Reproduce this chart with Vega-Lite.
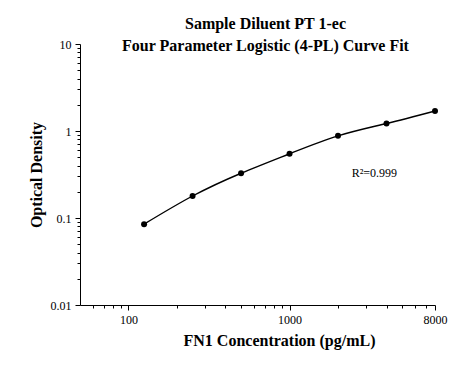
{
  "$schema": "https://vega.github.io/schema/vega-lite/v6.json",
  "width": 355,
  "height": 261,
  "autosize": "none",
  "padding": {"left": 80, "top": 44, "right": 27, "bottom": 61},
  "background": "white",
  "config": {
    "view": {"stroke": null},
    "font": "Liberation Serif",
    "axis": {
      "grid": false,
      "domainColor": "black",
      "tickColor": "black",
      "labelColor": "black",
      "titleColor": "black",
      "labelFont": "Liberation Serif",
      "titleFont": "Liberation Serif",
      "labelFontSize": 12,
      "titleFontSize": 16,
      "titleFontWeight": "bold",
      "labelOverlap": false,
      "labelBound": false,
      "labelFlush": false
    }
  },
  "title": {
    "text": ["Sample Diluent PT 1-ec", "Four Parameter Logistic (4-PL) Curve Fit"],
    "font": "Liberation Serif",
    "fontSize": 16,
    "fontWeight": "bold",
    "color": "black",
    "anchor": "middle",
    "lineHeight": 22,
    "offset": -16,
    "dx": 8
  },
  "datasets": {
    "points": [
      {"conc": 125, "od": 0.085},
      {"conc": 250, "od": 0.179},
      {"conc": 500, "od": 0.327},
      {"conc": 1000, "od": 0.548},
      {"conc": 2000, "od": 0.88},
      {"conc": 4000, "od": 1.22},
      {"conc": 8000, "od": 1.7}
    ],
    "note": [
      {"conc": 2430, "od": 0.33, "label": "R²=0.999"}
    ]
  },
  "layer": [
    {
      "data": {"name": "points"},
      "mark": {"type": "line", "interpolate": "natural", "color": "black", "strokeWidth": 1.4},
      "encoding": {
        "x": {
          "field": "conc",
          "type": "quantitative",
          "scale": {"type": "log", "domain": [50, 8000], "nice": false, "zero": false},
          "axis": {
            "title": "FN1 Concentration (pg/mL)",
            "values": [60, 70, 80, 90, 100, 200, 300, 400, 500, 600, 700, 800, 900, 1000, 2000, 3000, 4000, 5000, 6000, 7000, 8000],
            "labelExpr": "indexof([100, 1000, 8000], datum.value) >= 0 ? format(datum.value, 'd') : ''",
            "tickSize": {"condition": {"test": "indexof([100, 1000, 8000], datum.value) >= 0", "value": 5}, "value": 3},
            "labelPadding": 4,
            "titlePadding": 7,
            "titleX": 199
          }
        },
        "y": {
          "field": "od",
          "type": "quantitative",
          "scale": {"type": "log", "domain": [0.01, 10], "nice": false, "zero": false},
          "axis": {
            "title": "Optical Density",
            "values": [0.01, 0.02, 0.03, 0.04, 0.05, 0.06, 0.07, 0.08, 0.09, 0.1, 0.2, 0.3, 0.4, 0.5, 0.6, 0.7, 0.8, 0.9, 1, 2, 3, 4, 5, 6, 7, 8, 9, 10],
            "labelExpr": "indexof([0.01, 0.1, 1, 10], datum.value) >= 0 ? format(datum.value, '~g') : ''",
            "tickSize": {"condition": {"test": "indexof([0.01, 0.1, 1, 10], datum.value) >= 0", "value": 5}, "value": 3},
            "labelPadding": 4,
            "titlePadding": 6
          }
        }
      }
    },
    {
      "data": {"name": "points"},
      "mark": {"type": "circle", "color": "black", "opacity": 1, "size": 36},
      "encoding": {
        "x": {"field": "conc", "type": "quantitative"},
        "y": {"field": "od", "type": "quantitative"}
      }
    },
    {
      "data": {"name": "note"},
      "mark": {"type": "text", "align": "left", "baseline": "middle", "font": "Liberation Serif", "fontSize": 12, "color": "black"},
      "encoding": {
        "x": {"field": "conc", "type": "quantitative"},
        "y": {"field": "od", "type": "quantitative"},
        "text": {"field": "label"}
      }
    }
  ]
}
